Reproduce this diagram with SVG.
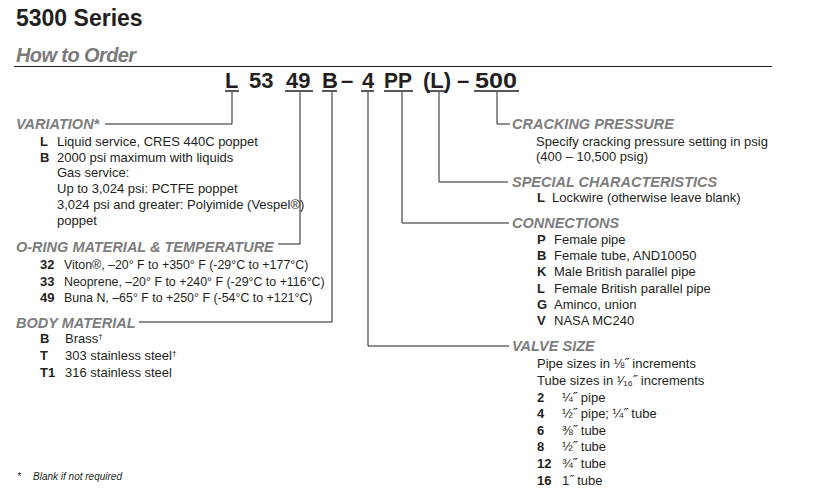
<svg xmlns="http://www.w3.org/2000/svg" width="839" height="495" viewBox="0 0 839 495">
<style>
text{font-family:"Liberation Sans",Arial,sans-serif;fill:#231f20}
.t{font-size:23px;font-weight:bold}
.ho{font-size:20px;font-weight:bold;font-style:italic;fill:#7a7a7a;letter-spacing:-0.6px}
.code{font-size:22px;font-weight:bold}
.h{font-size:14.5px;font-weight:bold;font-style:italic;fill:#7d7d7d}
.b{font-size:13px}
.bs{font-size:12.4px}
.k{font-size:13px;font-weight:bold}
.fn{font-size:10px;font-style:italic}
.ln{fill:none;stroke:#231f20;stroke-width:1}
.ul{stroke:#231f20;stroke-width:1.5}
</style>
<rect width="839" height="495" fill="#fff"/>
<g id="title">
<text class="t" x="16" y="26">5300 Series</text>
</g>
<g id="how-to-order">
<text class="ho" x="16" y="62">How to Order</text>
<line class="ln" x1="14" y1="66.5" x2="772" y2="66.5"/>
</g>
<g id="order-code">
<text class="code" x="225" y="88">L</text>
<text class="code" x="249" y="88">53</text>
<text class="code" x="286" y="88">49</text>
<text class="code" x="322" y="88">B</text>
<text class="code" x="341" y="88">–</text>
<text class="code" x="362" y="88">4</text>
<text class="code" x="384" y="88" textLength="28" lengthAdjust="spacingAndGlyphs">PP</text>
<text class="code" x="423" y="88">(L)</text>
<text class="code" x="457" y="88">–</text>
<text class="code" x="475" y="88" textLength="42" lengthAdjust="spacingAndGlyphs">500</text>
<line class="ul" x1="225" y1="91" x2="239" y2="91"/>
<line class="ul" x1="285" y1="91" x2="313" y2="91"/>
<line class="ul" x1="322" y1="91" x2="337" y2="91"/>
<line class="ul" x1="361" y1="91" x2="374" y2="91"/>
<line class="ul" x1="384" y1="91" x2="413" y2="91"/>
<line class="ul" x1="429" y1="91" x2="446" y2="91"/>
<line class="ul" x1="474" y1="91" x2="519" y2="91"/>
</g>
<g id="connectors">
<polyline class="ln" points="232,92 232,124 105,124"/>
<polyline class="ln" points="300,92 300,244 278,244"/>
<polyline class="ln" points="332,92 332,322 139,322"/>
<polyline class="ln" points="368,92 368,346 509,346"/>
<polyline class="ln" points="402,92 402,223 509,223"/>
<polyline class="ln" points="439,92 439,182 508,182"/>
<polyline class="ln" points="497,92 497,124 510,124"/>
</g>
<g id="variation">
<text class="h" x="16" y="129">VARIATION*</text>
<text class="k" x="40" y="146">L</text><text class="b" x="57" y="146">Liquid service, CRES 440C poppet</text>
<text class="k" x="40" y="162">B</text><text class="b" x="57" y="162">2000 psi maximum with liquids</text>
<text class="b" x="57" y="177">Gas service:</text>
<text class="b" x="57" y="193">Up to 3,024 psi: PCTFE poppet</text>
<text class="b" x="57" y="209">3,024 psi and greater: Polyimide (Vespel®)</text>
<text class="b" x="57" y="225">poppet</text>
</g>
<g id="o-ring">
<text class="h" x="16" y="252">O-RING MATERIAL &amp; TEMPERATURE</text>
<text class="k" x="40" y="269">32</text><text class="bs" x="64" y="269">Viton®, –20° F to +350° F (-29°C to +177°C)</text>
<text class="k" x="40" y="286">33</text><text class="bs" x="64" y="286">Neoprene, –20° F to +240° F (-29°C to +116°C)</text>
<text class="k" x="40" y="302">49</text><text class="bs" x="64" y="302">Buna N, –65° F to +250° F (-54°C to +121°C)</text>
</g>
<g id="body-material">
<text class="h" x="16" y="328">BODY MATERIAL</text>
<text class="k" x="40" y="343">B</text><text class="b" x="65" y="343">Brass<tspan font-size="8" dy="-4">†</tspan></text>
<text class="k" x="40" y="360">T</text><text class="b" x="65" y="360">303 stainless steel<tspan font-size="8" dy="-4">†</tspan></text>
<text class="k" x="40" y="377">T1</text><text class="b" x="65" y="377">316 stainless steel</text>
</g>
<g id="cracking-pressure">
<text class="h" x="512" y="129">CRACKING PRESSURE</text>
<text class="b" x="536" y="146">Specify cracking pressure setting in psig</text>
<text class="b" x="536" y="161">(400 – 10,500 psig)</text>
</g>
<g id="special-characteristics">
<text class="h" x="512" y="187">SPECIAL CHARACTERISTICS</text>
<text class="k" x="537" y="202">L</text><text class="b" x="552" y="202">Lockwire (otherwise leave blank)</text>
</g>
<g id="connections">
<text class="h" x="512" y="228">CONNECTIONS</text>
<text class="k" x="537" y="244">P</text><text class="b" x="554" y="244">Female pipe</text>
<text class="k" x="537" y="260">B</text><text class="b" x="554" y="260">Female tube, AND10050</text>
<text class="k" x="537" y="276">K</text><text class="b" x="554" y="276">Male British parallel pipe</text>
<text class="k" x="537" y="293">L</text><text class="b" x="554" y="293">Female British parallel pipe</text>
<text class="k" x="537" y="309">G</text><text class="b" x="554" y="309">Aminco, union</text>
<text class="k" x="537" y="325">V</text><text class="b" x="554" y="325">NASA MC240</text>
</g>
<g id="valve-size">
<text class="h" x="512" y="351">VALVE SIZE</text>
<text class="b" x="537" y="368">Pipe sizes in ⅛˝ increments</text>
<text class="b" x="537" y="385">Tube sizes in ¹⁄₁₆˝ increments</text>
<text class="k" x="537" y="402">2</text><text class="b" x="562" y="402">¼˝ pipe</text>
<text class="k" x="537" y="418">4</text><text class="b" x="562" y="418">½˝ pipe; ¼˝ tube</text>
<text class="k" x="537" y="435">6</text><text class="b" x="562" y="435">⅜˝ tube</text>
<text class="k" x="537" y="451">8</text><text class="b" x="562" y="451">½˝ tube</text>
<text class="k" x="537" y="468">12</text><text class="b" x="562" y="468">¾˝ tube</text>
<text class="k" x="537" y="485">16</text><text class="b" x="562" y="485">1˝ tube</text>
</g>
<g id="footnote">
<text class="fn" x="17" y="480">*</text>
<text class="fn" x="33" y="480">Blank if not required</text>
</g>
</svg>
